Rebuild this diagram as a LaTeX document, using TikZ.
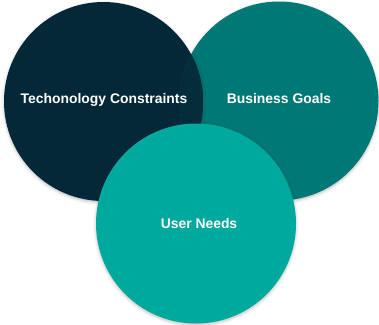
\documentclass[tikz,border=0pt]{standalone}
\usepackage{fontspec}
\setmainfont{Liberation Sans}
\usetikzlibrary{shadows.blur}
\definecolor{navy}{HTML}{042838}
\definecolor{tealdark}{HTML}{007875}
\definecolor{teallight}{HTML}{00A99D}
\begin{document}
\begin{tikzpicture}[x=1pt,y=-1pt,
  venn/.style={circle, minimum size=199pt, inner sep=0pt, draw=none,
    blur shadow={shadow xshift=0pt, shadow yshift=-1.5pt, shadow blur radius=3pt, shadow opacity=25}},
  label/.style={text=white, font=\bfseries\fontsize{13.9}{16}\selectfont, anchor=base}]
  \useasboundingbox (0,0) rectangle (379,324);
  % the three sets
  \node[venn, fill=tealdark] (business) at (279,101) {};
  \node[venn, fill=navy] (tech) at (103.5,101.5) {};
  % faint edge of the business set seen through the technology set
  \begin{scope}
    \clip (103.5,101.5) circle (99.5pt);
    \fill[navy!95!tealdark] (279,101) circle (99.5pt);
    \draw[navy!80!tealdark, line width=0.6pt] (279,101) circle (99.5pt);
  \end{scope}
  \node[venn, fill=teallight, minimum size=200pt] (user) at (196,223.5) {};
  % labels
  \node[label] (techlabel) at (104,103) {Techonology Constraints};
  \node[label] (businesslabel) at (279,103) {Business Goals};
  \node[label] (userlabel) at (199,228) {User Needs};
\end{tikzpicture}
\end{document}
